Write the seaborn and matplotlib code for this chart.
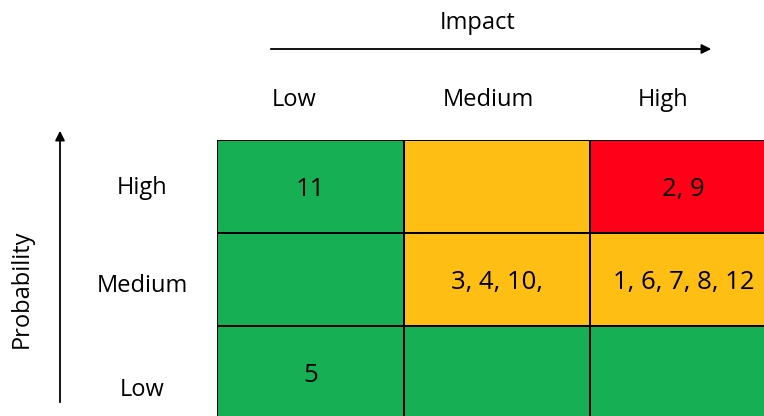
# Risk matrix: probability vs impact
import numpy as np
import matplotlib
matplotlib.use("Agg")
import matplotlib.pyplot as plt
from matplotlib.colors import ListedColormap
from matplotlib.transforms import ScaledTranslation
import seaborn as sns

# data
impact_levels = ["Low", "Medium", "High"]
probability_levels = ["High", "Medium", "Low"]
risk_level = [[0, 1, 2],
              [0, 1, 1],
              [0, 0, 0]]
risk_ids = [["11", "", "2, 9"],
            ["", "3, 4, 10,", "1, 6, 7, 8, 12"],
            ["5", "", ""]]

sns.set_style("white")
plt.rcParams["font.family"] = ["Open Sans", "DejaVu Sans"]
plt.rcParams["text.color"] = "black"

W, H = 764, 416
fig = plt.figure(figsize=(W / 100, H / 100), dpi=100)

# heatmap runs past the right and bottom edge like the reference
left, right, top, bottom = 217, 777, 140, 419
ax = fig.add_axes([left / W, 1 - bottom / H, (right - left) / W, (bottom - top) / H])

cmap = ListedColormap(["#17AF53", "#FFBE13", "#FF0019"])
sns.heatmap(np.array(risk_level), ax=ax, cmap=cmap, vmin=-0.5, vmax=2.5,
            annot=np.array(risk_ids), fmt="", cbar=False,
            linewidths=1.1, linecolor="black",
            annot_kws={"fontsize": 18.5, "color": "black"})
ax.set_xticks([])
ax.set_yticks([])
ax.set_xlabel("")
ax.set_ylabel("")
# nudge the cell numbers down a little
for t in ax.texts:
    t.set_transform(t.get_transform() + ScaledTranslation(0, -0.025, fig.dpi_scale_trans))

# column labels (impact)
col_x = [294, 488, 663]
for lab, x in zip(impact_levels, col_x):
    fig.text(x / W, 1 - 106 / H, lab, ha="center", va="baseline", fontsize=17)

# row labels (probability)
row_y = [194, 292, 396]
for lab, y in zip(probability_levels, row_y):
    fig.text(142 / W, 1 - y / H, lab, ha="center", va="baseline", fontsize=17)

# axis titles and arrows
fig.text(478 / W, 1 - 29 / H, "Impact", ha="center", va="baseline", fontsize=17)
fig.text(22 / W, 1 - 289 / H, "Probability", ha="center", va="center",
         fontsize=17, rotation=90)

arrow = dict(arrowstyle="-|>", color="black", lw=1.3, mutation_scale=14)
fig.add_artist(matplotlib.patches.FancyArrowPatch(
    (268 / W, 1 - 49 / H), (714 / W, 1 - 49 / H),
    transform=fig.transFigure, **arrow))
fig.add_artist(matplotlib.patches.FancyArrowPatch(
    (60 / W, 1 - 405 / H), (60 / W, 1 - 128 / H),
    transform=fig.transFigure, **arrow))

fig.savefig("out.png", dpi=100)
